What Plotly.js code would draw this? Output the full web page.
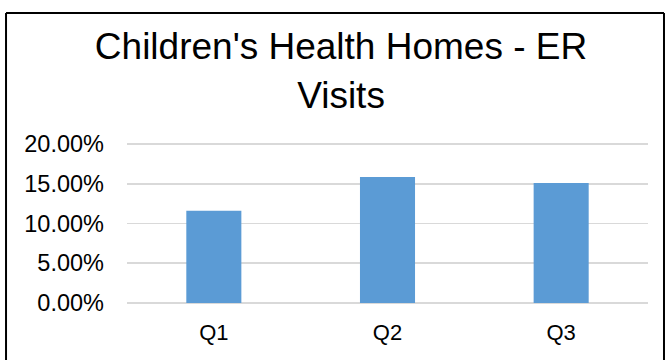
<!DOCTYPE html>
<html>
<head>
<meta charset="utf-8">
<script src="https://cdn.plot.ly/plotly-3.0.1.min.js"></script>
<style>
html,body{margin:0;padding:0;background:#fff;}
#chart{width:670px;height:360px;}
</style>
</head>
<body>
<div id="chart"></div>
<script>
const categories = ["Q1", "Q2", "Q3"];
const erVisitRates = [0.116, 0.1586, 0.151];
const yTickValues = [0, 0.05, 0.10, 0.15, 0.20];
const titleText = "Children's Health Homes - ER<br>Visits";

const FONT = "Liberation Sans, Arial, sans-serif";

const trace = {
  type: "bar",
  x: categories,
  y: erVisitRates,
  marker: {color: "#5b9bd5"},
  hoverinfo: "x+y"
};

const layout = {
  width: 670,
  height: 360,
  margin: {l: 127, r: 22, t: 140, b: 57, pad: 0},
  paper_bgcolor: "#ffffff",
  plot_bgcolor: "#ffffff",
  showlegend: false,
  bargap: 0.683,
  title: {
    text: titleText,
    font: {family: FONT, size: 37, color: "#000000"},
    x: 0.509,
    xanchor: "center",
    y: 0.835,
    yanchor: "bottom"
  },
  xaxis: {
    type: "category",
    showgrid: false,
    zeroline: false,
    showline: false,
    ticks: "",
    ticklabelstandoff: 14,
    tickfont: {family: FONT, size: 22, color: "#000000"}
  },
  yaxis: {
    range: [0, 0.205],
    tickvals: yTickValues,
    tickformat: ".2%",
    showgrid: true,
    gridcolor: "#d9d9d9",
    gridwidth: 1.6,
    zeroline: true,
    zerolinecolor: "#d9d9d9",
    zerolinewidth: 1.6,
    showline: false,
    ticks: "",
    ticklabelstandoff: 22,
    tickfont: {family: FONT, size: 23.5, color: "#000000"}
  },
  shapes: [
    {type: "line", xref: "paper", yref: "paper", x0: -0.2322, x1: 1.0307, y0: 1.779, y1: 1.779, line: {color: "#000", width: 2}},
    {type: "line", xref: "paper", yref: "paper", x0: -0.2322, x1: -0.2322, y0: 1.779, y1: -0.5, line: {color: "#000", width: 2}},
    {type: "line", xref: "paper", yref: "paper", x0: 1.0307, x1: 1.0307, y0: 1.779, y1: -0.5, line: {color: "#000", width: 2}}
  ]
};

Plotly.newPlot("chart", [trace], layout, {displayModeBar: false, staticPlot: true});
</script>
</body>
</html>
